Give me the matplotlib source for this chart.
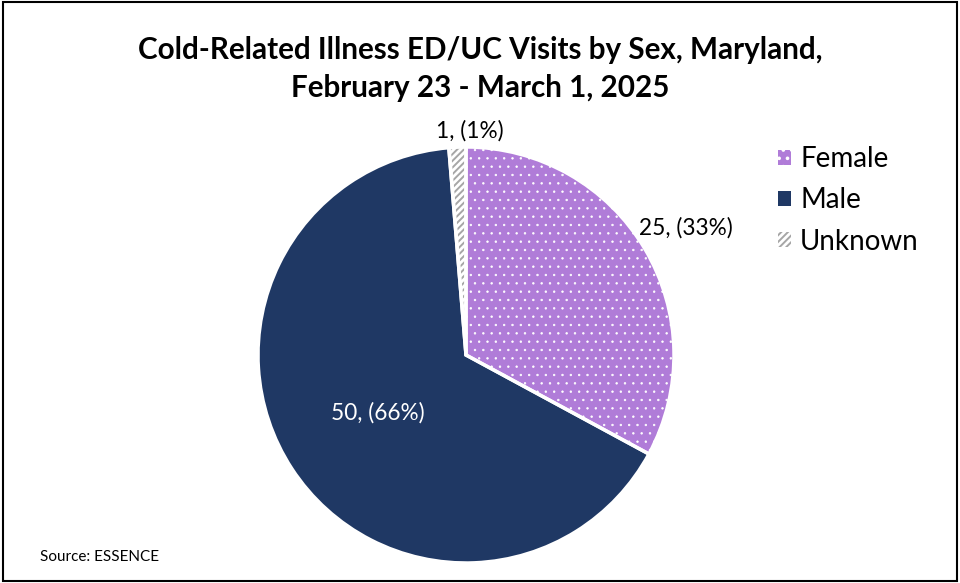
import matplotlib
matplotlib.use("Agg")
import matplotlib.pyplot as plt
from matplotlib.patches import Rectangle, Patch

plt.rcParams["font.family"] = ["Lato", "DejaVu Sans"]
plt.rcParams["hatch.linewidth"] = 1.4

categories = ["Female", "Male", "Unknown"]
counts = [25, 50, 1]
pcts = [33, 66, 1]
colors = ["#B07CD8", "#1F3864", "#FFFFFF"]
hatches = ["..", None, "/////"]
hatch_colors = ["white", "white", "#A6A6A6"]
hatch_widths = [0.5, 1.0, 1.4]

fig = plt.figure(figsize=(9.6, 5.83), dpi=100)
ax = fig.add_axes([258 / 960, 20 / 583, 416 / 960, 416 / 583])

wedges, _ = ax.pie(counts, colors=colors, startangle=90, counterclock=False,
                   radius=1, wedgeprops=dict(linewidth=0))
for w, h, hc, hw in zip(wedges, hatches, hatch_colors, hatch_widths):
    if h:
        w.set_hatch(h)
        w.set_edgecolor(hc)
        w.set_linewidth(0)
        if hasattr(w, "set_hatch_linewidth"):
            w.set_hatch_linewidth(hw)
# white borders between slices
ax.pie(counts, colors=["white"] * len(counts), startangle=90, counterclock=False,
       radius=1, wedgeprops=dict(linewidth=2.5, edgecolor="white", fill=False))
ax.set_xlim(-1, 1)
ax.set_ylim(-1, 1)
ax.set_aspect("equal")

ax.text(1.058, 0.61, f"{counts[0]}, ({pcts[0]}%)", ha="center", va="center", fontsize=16.3)
ax.text(-0.423, -0.279, f"{counts[1]}, ({pcts[1]}%)", ha="center", va="center",
        fontsize=16.3, color="white")
ax.text(0.02, 1.08, f"{counts[2]}, ({pcts[2]}%)", ha="center", va="center", fontsize=16.3)

handles = []
for c, h, hc, hw in zip(colors, hatches, hatch_colors, hatch_widths):
    p = Patch(facecolor=c, hatch=h, edgecolor=hc, linewidth=0)
    if hasattr(p, "set_hatch_linewidth"):
        p.set_hatch_linewidth(hw)
    handles.append(p)
fig.legend(handles, categories, loc="upper left", bbox_to_anchor=(753 / 960, 1 - 121 / 583),
           frameon=False, fontsize=20, handlelength=0.45, handleheight=0.45,
           handletextpad=0.35, labelspacing=0.55)

fig.text(0.5, 1 - 50 / 583, "Cold-Related Illness ED/UC Visits by Sex, Maryland,",
         ha="center", va="center", fontsize=21.3, fontweight="bold")
fig.text(0.5, 1 - 88 / 583, "February 23 - March 1, 2025",
         ha="center", va="center", fontsize=21.3, fontweight="bold")
fig.text(40 / 960, 1 - 557 / 583, "Source: ESSENCE", ha="left", va="center", fontsize=11)

fig.patches.append(Rectangle((0.003, 0.004), 0.994, 0.992, transform=fig.transFigure,
                             fill=False, edgecolor="black", linewidth=1.5))

fig.savefig("out.png", dpi=100)
